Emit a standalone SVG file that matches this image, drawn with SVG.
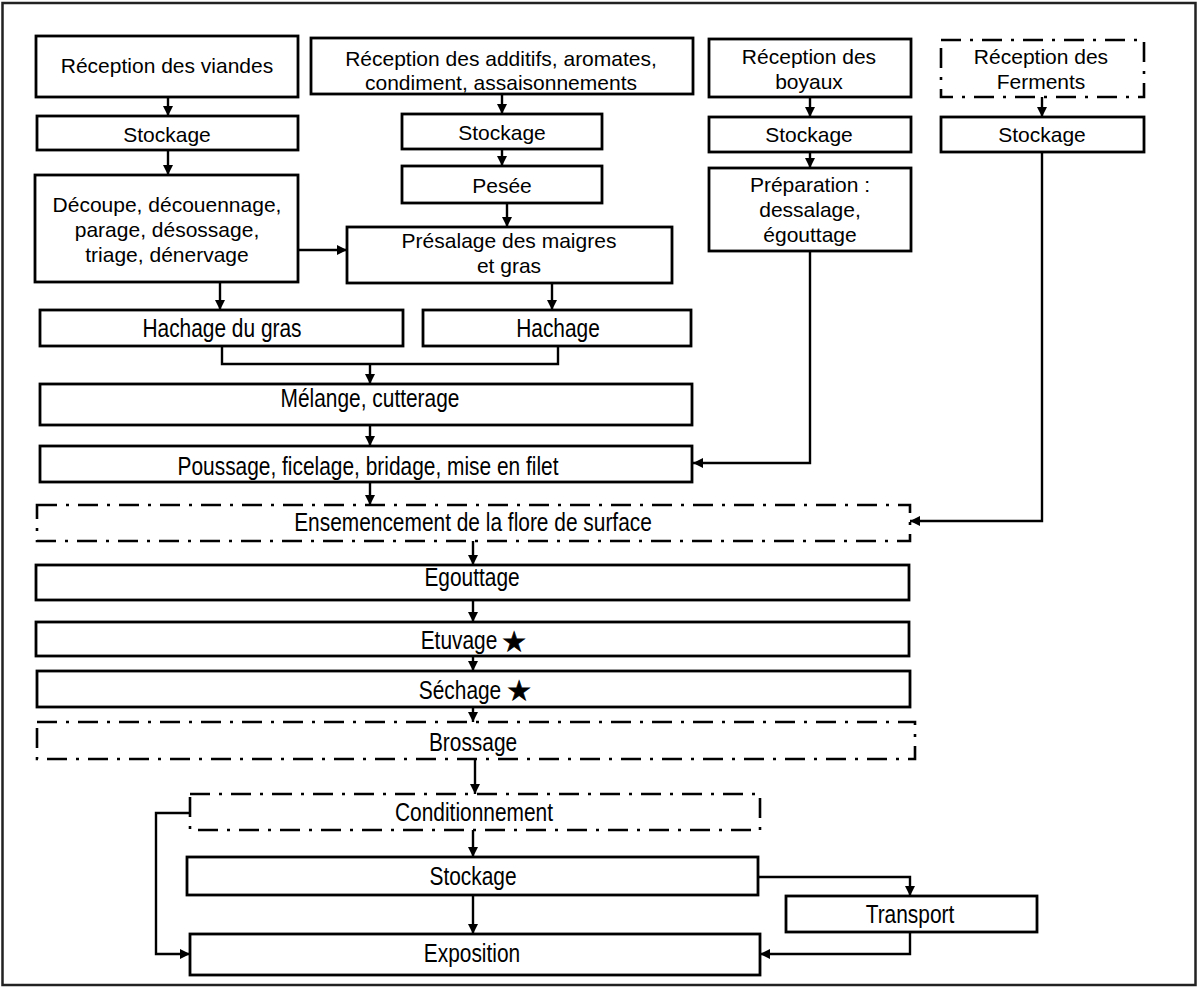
<svg xmlns="http://www.w3.org/2000/svg" width="1200" height="988" viewBox="0 0 1200 988">
<style>
.b{fill:#fff;stroke:#000;stroke-width:2.8}
.d{fill:#fff;stroke:#000;stroke-width:2.6;stroke-dasharray:20 9 3 9}
.t{font-family:"Liberation Sans",Arial,sans-serif;font-size:21px;fill:#000;text-anchor:middle}
.n{font-family:"Liberation Sans",Arial,sans-serif;font-size:25.5px;fill:#000;text-anchor:middle}
.s{font-family:"DejaVu Sans",sans-serif;font-size:27px;fill:#000;stroke:#000;stroke-width:0.8;text-anchor:middle}
.c{fill:none;stroke:#000;stroke-width:2.4}
</style>
<defs>
<marker id="ah" viewBox="0 0 10 10" refX="10" refY="5" markerWidth="10" markerHeight="10" markerUnits="userSpaceOnUse" orient="auto"><path d="M0,0 L10,5 L0,10 z" fill="#000"/></marker>
</defs>
<rect x="0" y="0" width="1200" height="988" fill="#fff"/>
<rect x="2.5" y="3" width="1193" height="982" fill="none" stroke="#222" stroke-width="2.5"/>

<g id="connectors">
<path class="c" d="M168 97 V116" marker-end="url(#ah)"/>
<path class="c" d="M168 150 V175" marker-end="url(#ah)"/>
<path class="c" d="M298 250 H347" marker-end="url(#ah)"/>
<path class="c" d="M220 282 V310" marker-end="url(#ah)"/>
<path class="c" d="M502 94 V114" marker-end="url(#ah)"/>
<path class="c" d="M502 149 V166" marker-end="url(#ah)"/>
<path class="c" d="M507 203 V227" marker-end="url(#ah)"/>
<path class="c" d="M552 283 V310" marker-end="url(#ah)"/>
<path class="c" d="M810 97 V117" marker-end="url(#ah)"/>
<path class="c" d="M810 152 V168" marker-end="url(#ah)"/>
<path class="c" d="M810 251 V463 H693" marker-end="url(#ah)"/>
<path class="c" d="M1042 97 V117" marker-end="url(#ah)"/>
<path class="c" d="M1042 152 V521 H910" marker-end="url(#ah)"/>
<path class="c" d="M222 346 V364 H558 V346"/>
<path class="c" d="M370 364 V384" marker-end="url(#ah)"/>
<path class="c" d="M370 425 V446" marker-end="url(#ah)"/>
<path class="c" d="M370 482 V505" marker-end="url(#ah)"/>
<path class="c" d="M473 541 V565" marker-end="url(#ah)"/>
<path class="c" d="M473 600 V622" marker-end="url(#ah)"/>
<path class="c" d="M473 656 V671" marker-end="url(#ah)"/>
<path class="c" d="M473 707 V722" marker-end="url(#ah)"/>
<path class="c" d="M475 759 V794" stroke-width="2.8" marker-end="url(#ah)"/>
<path class="c" d="M473 830 V857" marker-end="url(#ah)"/>
<path class="c" d="M473 895 V934" marker-end="url(#ah)"/>
<path class="c" d="M758 877 H910 V896" marker-end="url(#ah)"/>
<path class="c" d="M910 932 V954 H760" marker-end="url(#ah)"/>
<path class="c" d="M190 813 H156 V954 H190" marker-end="url(#ah)"/>
</g>

<g id="n-reception-viandes"><rect class="b" x="36" y="36" width="262" height="61"/><text class="t" x="167" y="73">Réception des viandes</text></g>
<g id="n-stockage-viandes"><rect class="b" x="37" y="116" width="261" height="34"/><text class="t" x="167" y="142">Stockage</text></g>
<g id="n-decoupe"><rect class="b" x="35" y="175" width="263" height="107"/><text class="t" x="167" y="212">Découpe, découennage,</text><text class="t" x="167" y="237">parage, désossage,</text><text class="t" x="167" y="262">triage, dénervage</text></g>

<g id="n-reception-additifs"><rect class="b" x="311" y="38" width="382" height="56"/><text class="t" x="501" y="66">Réception des additifs, aromates,</text><text class="t" x="501" y="90">condiment, assaisonnements</text></g>
<g id="n-stockage-additifs"><rect class="b" x="402" y="114" width="200" height="35"/><text class="t" x="502" y="140">Stockage</text></g>
<g id="n-pesee"><rect class="b" x="402" y="166" width="200" height="37"/><text class="t" x="502" y="193">Pesée</text></g>
<g id="n-presalage"><rect class="b" x="347" y="227" width="325" height="56"/><text class="t" x="509" y="248">Présalage des maigres</text><text class="t" x="509" y="273">et gras</text></g>

<g id="n-reception-boyaux"><rect class="b" x="709" y="39" width="202" height="58"/><text class="t" x="809" y="64">Réception des</text><text class="t" x="809" y="89">boyaux</text></g>
<g id="n-stockage-boyaux"><rect class="b" x="709" y="117" width="202" height="35"/><text class="t" x="809" y="142">Stockage</text></g>
<g id="n-preparation"><rect class="b" x="709" y="168" width="202" height="83"/><text class="t" x="810" y="192">Préparation :</text><text class="t" x="810" y="217">dessalage,</text><text class="t" x="810" y="242">égouttage</text></g>

<g id="n-reception-ferments"><rect class="d" x="941" y="40" width="203" height="57"/><text class="t" x="1041" y="64">Réception des</text><text class="t" x="1041" y="89">Ferments</text></g>
<g id="n-stockage-ferments"><rect class="b" x="941" y="117" width="203" height="35"/><text class="t" x="1042" y="142">Stockage</text></g>

<g id="n-hachage-gras"><rect class="b" x="40" y="310" width="363" height="36"/><text class="n" transform="translate(222 337) scale(0.82 1)">Hachage du gras</text></g>
<g id="n-hachage"><rect class="b" x="423" y="310" width="268" height="36"/><text class="n" transform="translate(558 337) scale(0.82 1)">Hachage</text></g>
<g id="n-melange"><rect class="b" x="40" y="384" width="652" height="41"/><text class="n" transform="translate(370 407) scale(0.82 1)">Mélange, cutterage</text></g>
<g id="n-poussage"><rect class="b" x="40" y="446" width="652" height="36"/><text class="n" transform="translate(368 475) scale(0.82 1)">Poussage, ficelage, bridage, mise en filet</text></g>
<g id="n-ensemencement"><rect class="d" x="37" y="505" width="873" height="36"/><text class="n" transform="translate(473 531) scale(0.82 1)">Ensemencement de la flore de surface</text></g>
<g id="n-egouttage"><rect class="b" x="36" y="565" width="873" height="35"/><text class="n" transform="translate(472 586) scale(0.82 1)">Egouttage</text></g>
<g id="n-etuvage"><rect class="b" x="36" y="622" width="873" height="34"/><text class="n" transform="translate(459 649) scale(0.82 1)">Etuvage</text><text class="s" x="514" y="651">★</text></g>
<g id="n-sechage"><rect class="b" x="37" y="671" width="873" height="36"/><text class="n" transform="translate(460 699) scale(0.82 1)">Séchage</text><text class="s" x="519" y="700">★</text></g>
<g id="n-brossage"><rect class="d" x="37" y="722" width="878" height="37"/><text class="n" transform="translate(473 751) scale(0.82 1)">Brossage</text></g>
<g id="n-conditionnement"><rect class="d" x="190" y="794" width="570" height="36"/><text class="n" transform="translate(474 821) scale(0.82 1)">Conditionnement</text></g>
<g id="n-stockage-final"><rect class="b" x="187" y="857" width="571" height="38"/><text class="n" transform="translate(473 885) scale(0.82 1)">Stockage</text></g>
<g id="n-transport"><rect class="b" x="786" y="896" width="251" height="36"/><text class="n" transform="translate(910 923) scale(0.82 1)">Transport</text></g>
<g id="n-exposition"><rect class="b" x="190" y="934" width="570" height="41"/><text class="n" transform="translate(472 962) scale(0.82 1)">Exposition</text></g>
</svg>
